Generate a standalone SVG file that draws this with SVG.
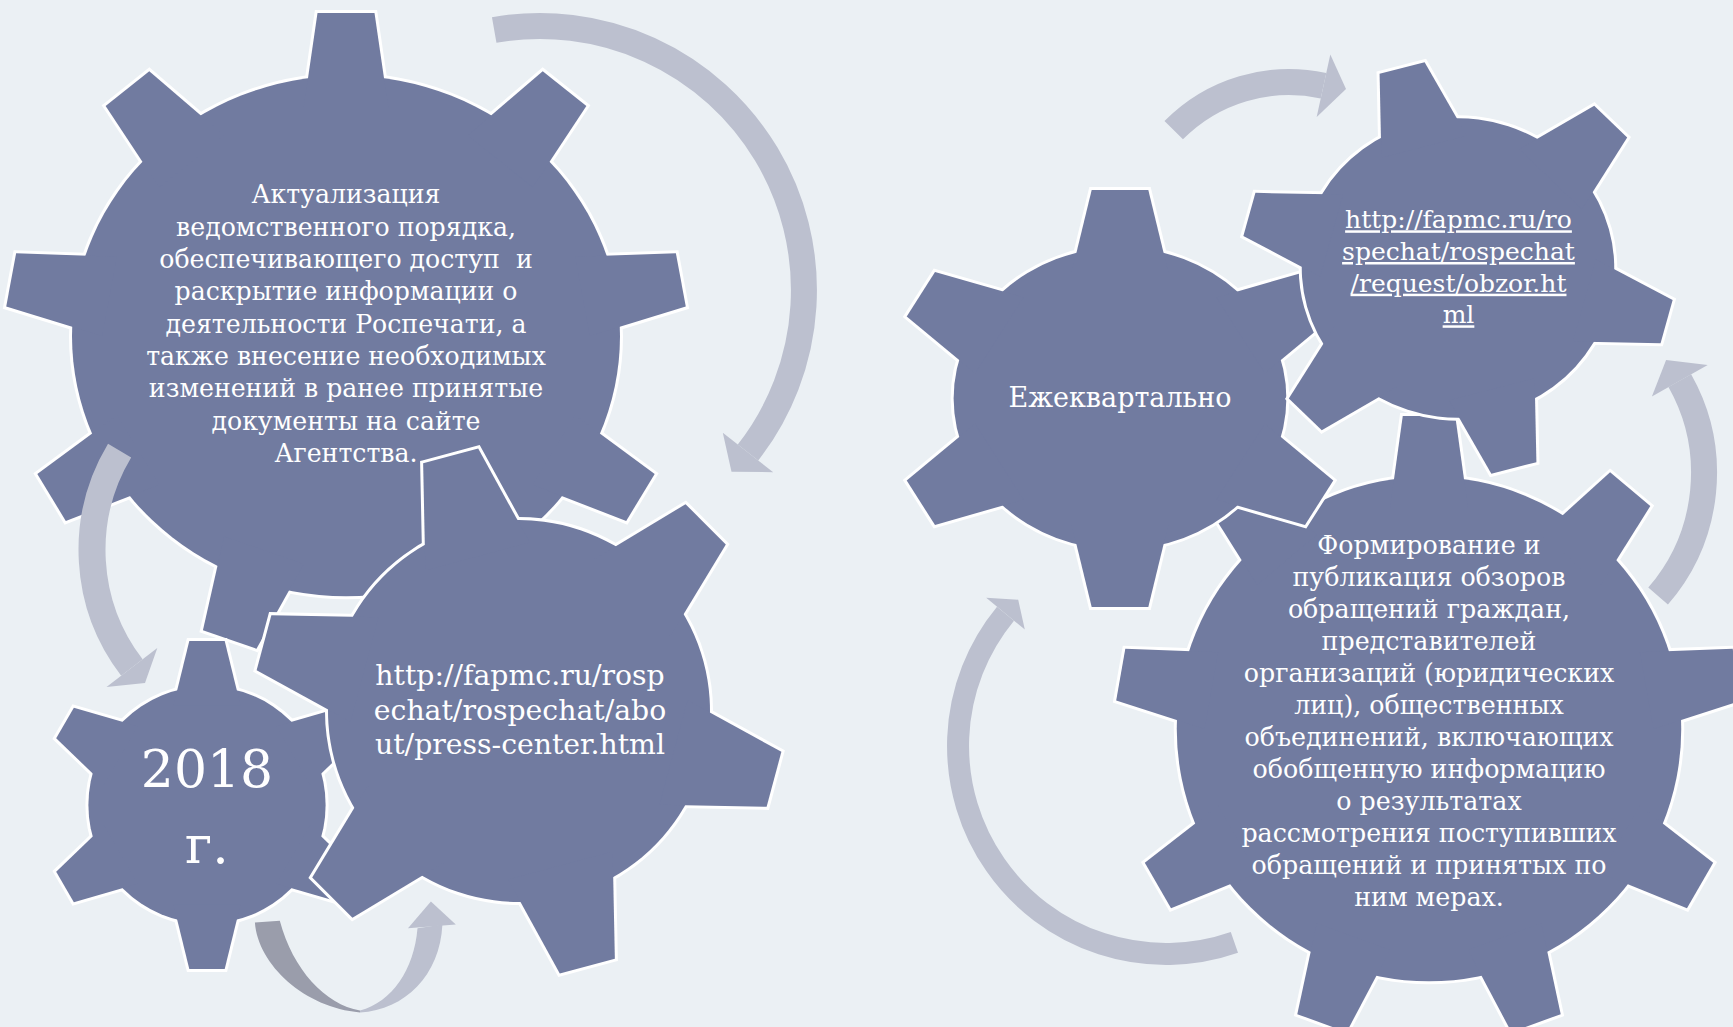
<svg xmlns="http://www.w3.org/2000/svg" width="1733" height="1027" viewBox="0 0 1733 1027">
<style>
.ol{fill:#fff;stroke:#fff;stroke-width:6;stroke-linejoin:miter}
.fi{fill:#717BA0;stroke:none}
.tx{font-family:"DejaVu Serif","Liberation Serif",serif;fill:#fff;text-anchor:middle}
.arc{fill:none;stroke:#BCC0CF}
.hd{fill:#BCC0CF}
.dk{fill:#9A9DAB}
.lk{text-decoration:underline}
</style>
<defs>
<polygon id="t9" points="-28.5,-340 28.5,-340 42.35,-240 -42.35,-240" vector-effect="non-scaling-stroke"/>
<g id="g9">
<circle r="274" vector-effect="non-scaling-stroke"/>
<use href="#t9"/>
<use href="#t9" transform="rotate(40)"/>
<use href="#t9" transform="rotate(80)"/>
<use href="#t9" transform="rotate(120)"/>
<use href="#t9" transform="rotate(160)"/>
<use href="#t9" transform="rotate(200)"/>
<use href="#t9" transform="rotate(240)"/>
<use href="#t9" transform="rotate(280)"/>
<use href="#t9" transform="rotate(320)"/>
</g>
<polygon id="t6" points="-28.5,-264 28.5,-264 54.1,-160 -54.1,-160" vector-effect="non-scaling-stroke"/>
<g id="g6">
<circle r="191" vector-effect="non-scaling-stroke"/>
<use href="#t6"/>
<use href="#t6" transform="rotate(60)"/>
<use href="#t6" transform="rotate(120)"/>
<use href="#t6" transform="rotate(180)"/>
<use href="#t6" transform="rotate(240)"/>
<use href="#t6" transform="rotate(300)"/>
</g>
<polygon id="t6w" points="-32.5,-264 32.5,-264 55.4,-160 -55.4,-160" vector-effect="non-scaling-stroke"/>
<g id="g6w">
<circle r="191" vector-effect="non-scaling-stroke"/>
<use href="#t6w"/>
<use href="#t6w" transform="rotate(60)"/>
<use href="#t6w" transform="rotate(120)"/>
<use href="#t6w" transform="rotate(180)"/>
<use href="#t6w" transform="rotate(240)"/>
<use href="#t6w" transform="rotate(300)"/>
</g>
</defs>
<rect x="0" y="0" width="1733" height="1027" fill="#EBF0F4"/>

<g id="gear1">
<g transform="translate(346,336) scale(1,0.95)">
<use href="#g9" class="ol"/>
<use href="#g9" class="fi"/>
</g>
<text class="tx" font-size="25.2"><tspan x="346" y="203.4">Актуализация</tspan><tspan x="346" y="235.7">ведомственного порядка,</tspan><tspan x="346" y="268">обеспечивающего доступ&#160; и</tspan><tspan x="346" y="300.3">раскрытие информации о</tspan><tspan x="346" y="332.6">деятельности Роспечати, а</tspan><tspan x="346" y="364.9">также внесение необходимых</tspan><tspan x="346" y="397.2">изменений в ранее принятые</tspan><tspan x="346" y="429.5">документы на сайте</tspan><tspan x="346" y="461.8">Агентства.</tspan></text>
</g>

<g id="gear3">
<g transform="translate(207,805) scale(0.621)">
<use href="#g6" class="ol"/>
<use href="#g6" class="fi"/>
</g>
<text class="tx" font-size="52"><tspan x="207" y="787">2018</tspan><tspan x="207" y="863">г.</tspan></text>
</g>

<g id="gear2">
<g transform="translate(519,711) rotate(-15)">
<use href="#g6" class="ol"/>
<use href="#g6" class="fi"/>
</g>
<text class="tx" font-size="28.3"><tspan x="520" y="685">http://fapmc.ru/rosp</tspan><tspan x="520" y="719.5">echat/rospechat/abo</tspan><tspan x="520" y="754">ut/press-center.html</tspan></text>
</g>

<g id="gear6">
<g transform="translate(1429,729) scale(0.9206)">
<use href="#g9" class="ol"/>
<use href="#g9" class="fi"/>
</g>
<text class="tx" font-size="25.3"><tspan x="1429" y="554">Формирование и</tspan><tspan x="1429" y="586">публикация обзоров</tspan><tspan x="1429" y="618">обращений граждан,</tspan><tspan x="1429" y="650">представителей</tspan><tspan x="1429" y="682">организаций (юридических</tspan><tspan x="1429" y="714">лиц), общественных</tspan><tspan x="1429" y="746">объединений, включающих</tspan><tspan x="1429" y="778">обобщенную информацию</tspan><tspan x="1429" y="810">о результатах</tspan><tspan x="1429" y="842">рассмотрения поступивших</tspan><tspan x="1429" y="874">обращений и принятых по</tspan><tspan x="1429" y="906">ним мерах.</tspan></text>
</g>

<g id="gear4">
<g transform="translate(1120,398.5) scale(0.871,0.79)">
<use href="#g6w" class="ol"/>
<use href="#g6w" class="fi"/>
</g>
<text class="tx" font-size="27" x="1120" y="407">Ежеквартально</text>
</g>

<g id="gear5">
<g transform="translate(1458,268) scale(0.818,0.784) rotate(-15)">
<use href="#g6" class="ol"/>
<use href="#g6" class="fi"/>
</g>
<text class="tx lk" font-size="25"><tspan x="1458.5" y="228.3">http://fapmc.ru/ro</tspan><tspan x="1458.5" y="260">spechat/rospechat</tspan><tspan x="1458.5" y="291.7">/request/obzor.ht</tspan><tspan x="1458.5" y="323.3">ml</tspan></text>
</g>

<g id="connectors">
<path class="arc" stroke-width="26" d="M494.2,30 A264,264 0 0 1 748,452.5"/>
<polygon class="hd" points="722.8,432.8 773.2,472.2 731.5,471.7"/>
<path class="arc" stroke-width="27" d="M119.6,450.6 A193,193 0 0 0 131.9,667.5"/>
<polygon class="hd" points="157.3,648 106.5,687 145,682.9"/>
<path class="dk" d="M254.9,922.6 C258,965 305,1008 360,1012.5 L360,1010.6 C325,1004 293,970 279.8,920.7 Z"/>
<path class="hd" d="M360,1012.5 C405,1010 440,975 442.4,924.5 L417.5,928.3 C414,970 392,1002 360,1010.6 Z"/>
<polygon class="hd" points="408,928.3 430.9,901.6 455.8,924.5"/>
<path class="arc" stroke-width="26" d="M1173.7,130.2 A162,162 0 0 1 1323.5,85.7"/>
<polygon class="hd" points="1316.7,117 1330.3,54.5 1346,89"/>
<path class="arc" stroke-width="26" d="M1658.1,596.1 A188,188 0 0 0 1679.8,380.7"/>
<polygon class="hd" points="1651.9,396.4 1707.7,365 1666.1,359.9"/>
<path class="arc" stroke-width="22" d="M1234.4,942.4 A208,208 0 0 1 1005.5,613.7"/>
<polygon class="hd" points="1024.8,629.6 986.2,597.8 1018.2,599.7"/>
</g>
</svg>
